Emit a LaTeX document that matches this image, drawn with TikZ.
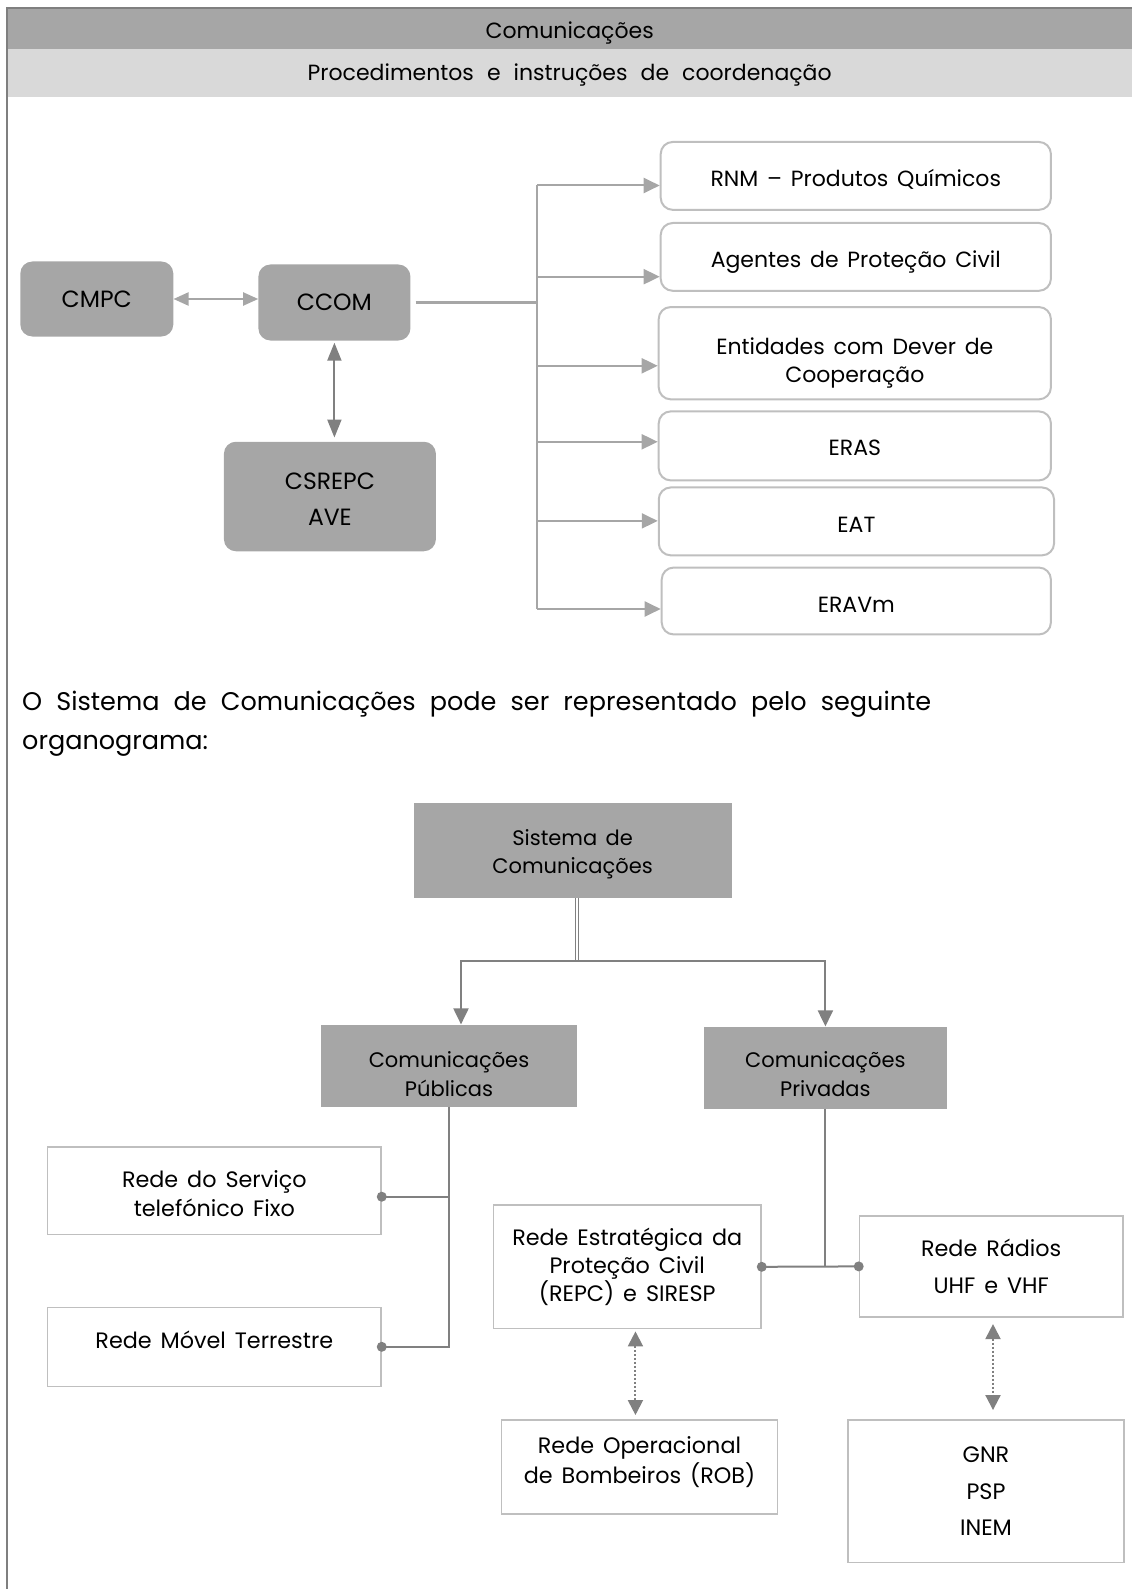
\documentclass[tikz,border=0pt]{standalone}
\usepackage{fontspec}
\setmainfont{Poppins}[WordSpace=1.5]
\usetikzlibrary{arrows.meta}
\definecolor{boxgray}{HTML}{A6A6A6}
\definecolor{bandlight}{HTML}{D9D9D9}
\definecolor{edgegray}{HTML}{BFBFBF}
\definecolor{linegray}{HTML}{808080}
\definecolor{framegray}{HTML}{7F7F7F}

\begin{document}
\begin{tikzpicture}[x=1pt,y=-1pt,
  every node/.style={inner sep=0pt, align=center, text=black},
  fs/.style 2 args={font=\fontsize{#1}{#2}\selectfont},
  % text set inside a box: downward shift, text style, text
  intext/.style n args={3}{label={[#2, align=center, text=black, yshift=-#1]center:{#3}}},
  band/.style={anchor=north west, minimum width=1125pt},
  bandtext/.style={fs={22}{26}},
  gbox/.style={fill=boxgray, rounded corners=12pt, fs={23.5}{36.4}},
  gtext/.style={fs={23.5}{36.4}},
  rbox/.style={draw=edgegray, line width=2pt, rounded corners=12pt, fill=white},
  rtext/.style={fs={22}{28.4}},
  sbox/.style={fill=boxgray},
  stext/.style={fs={21}{28.4}},
  wbox/.style={draw=edgegray, line width=1.5pt, fill=white, fs={22.3}{28.4}},
  wtext/.style={fs={22.3}{28.4}},
  tline/.style={draw=boxgray, line width=2pt},
  tarr/.style={tline, -{Triangle[length=16pt,width=15pt]}},
  tdarr/.style={tline, {Triangle[length=15pt,width=13pt]}-{Triangle[length=15pt,width=13pt]}},
  conn/.style={draw=linegray, line width=2pt},
  carr/.style={conn, -{Triangle[length=16pt,width=15pt]}},
  dotarr/.style={draw=linegray, line width=2pt, dotted,
    {Triangle[length=15pt,width=15pt,fill=linegray]}-{Triangle[length=15pt,width=15pt,fill=linegray]}},
  dot/.style={fill=linegray}
]
\useasboundingbox (0,0) rectangle (1132,1589);

% page frame and heading bands
\node[band, fill=boxgray, minimum height=40.6pt,
  intext={4pt}{bandtext}{Comunicações}] (hdr) at (7,8) {};
\node[band, fill=bandlight, minimum height=48.7pt,
  intext={2pt}{bandtext}{\makebox[524pt][s]{Procedimentos e instruções de coordenação}}] (sub) at (7,48.6) {};
\draw[framegray, line width=2pt] (7,1589) -- (7,8) -- (1132,8);

% coordination centres
\node[gbox, minimum width=153pt, minimum height=75pt] (cmpc) at (96.8,299) {CMPC};
\node[gbox, minimum width=152pt, minimum height=76pt] (ccom) at (334.4,302.5) {CCOM};
\node[gbox, minimum width=212pt, minimum height=109.5pt,
  intext={2.5pt}{gtext}{CSREPC\\AVE}] (csrepc) at (329.9,496.5) {};

\draw[tdarr] (cmpc.east) -- (cmpc.east -| ccom.west);
\draw[tline, draw=linegray, {Triangle[length=18pt,width=14pt]}-{Triangle[length=18pt,width=14pt]},
  shorten <=2pt, shorten >=4pt] (ccom.south) -- (ccom.south |- csrepc.north);

% entities informed by CCOM
\node[rbox, minimum width=390.2pt, minimum height=67.9pt,
  intext={3pt}{rtext}{RNM – Produtos Químicos}] (rnm) at (855.8,175.9) {};
\node[rbox, minimum width=390.2pt, minimum height=67.8pt,
  intext={5pt}{rtext}{Agentes de Proteção Civil}] (apc) at (855.8,256.9) {};
\node[rbox, minimum width=392.2pt, minimum height=92.3pt,
  intext={9.5pt}{rtext}{Entidades com Dever de\\Cooperação}] (edc) at (854.8,353.2) {};
\node[rbox, minimum width=392.2pt, minimum height=69pt,
  intext={2pt}{rtext}{ERAS}] (eras) at (854.8,445.9) {};
\node[rbox, minimum width=395.3pt, minimum height=67.9pt,
  intext={3pt}{rtext}{EAT}] (eat) at (856.4,521.4) {};
\node[rbox, minimum width=389.2pt, minimum height=66.9pt,
  intext={4pt}{rtext}{ERAVm}] (eravm) at (856.3,601) {};

\coordinate (b1) at (537,185.5);
\coordinate (b2) at (537,276.7);
\coordinate (b3) at (537,365.8);
\coordinate (b4) at (537,441.8);
\coordinate (b5) at (537,520.9);
\coordinate (b6) at (537,609);
\draw[tline, line width=3pt, shorten <=5pt] (ccom.east) -- (ccom.east -| b1);
\draw[tline] (b1) -- (b6);
\draw[tarr] (b1) -- (b1 -| rnm.west);
\draw[tarr] (b2) -- (b2 -| apc.west);
\draw[tarr] (b3) -- (b3 -| edc.west);
\draw[tarr] (b4) -- (b4 -| eras.west);
\draw[tarr] (b5) -- (b5 -| eat.west);
\draw[tarr] (b6) -- (b6 -| eravm.west);

% introductory sentence
\node[anchor=north west, align=left, fs={25.5}{39}] (para) at (22,690.5)
  {\makebox[909pt][s]{O Sistema de Comunicações pode ser representado pelo seguinte}\\organograma:};

% communications system chart
\node[sbox, minimum width=318.2pt, minimum height=95.3pt,
  intext={4pt}{stext}{Sistema de\\Comunicações}] (sis) at (572.6,850.3) {};
\node[sbox, minimum width=255.3pt, minimum height=82pt,
  intext={8.6pt}{stext}{Comunicações\\Públicas}] (pub) at (449,1065.6) {};
\node[sbox, minimum width=242.2pt, minimum height=82pt,
  intext={6.6pt}{stext}{Comunicações\\Privadas}] (priv) at (825.4,1067.6) {};

\coordinate (split) at (577,960.7);
\draw[conn, double=white, double distance=2pt, line width=1pt] ([xshift=4.4pt]sis.south) -- (split);
\draw[carr] (split) -| ([xshift=12pt]pub.north);
\draw[carr] (split) -| (priv.north);

\node[wbox, minimum width=333.4pt, minimum height=87.3pt,
  intext={3pt}{wtext}{Rede do Serviço\\telefónico Fixo}] (fixo) at (214.3,1190.7) {};
\node[wbox, minimum width=333.4pt, minimum height=79pt,
  intext={-7pt}{wtext}{Rede Móvel Terrestre}] (movel) at (214.3,1346.8) {};
\node[wbox, minimum width=267.5pt, minimum height=123.7pt] (repc) at (627.25,1266.8)
  {Rede Estratégica da\\Proteção Civil\\(REPC) e SIRESP};
\node[wbox, minimum width=263.5pt, minimum height=100.8pt, fs={22.3}{36.5}] (rad) at (991.2,1266.4)
  {Rede Rádios\\UHF e VHF};
\node[wbox, minimum width=275.7pt, minimum height=94.2pt,
  intext={-5pt}{fs={22.3}{29.4}}{Rede Operacional\\de Bombeiros (ROB)}] (rob) at (639.5,1466.9) {};
\node[wbox, minimum width=275.7pt, minimum height=142.8pt, fs={22.3}{36.5}] (gnr) at (986,1491.2)
  {GNR\\PSP\\INEM};

% public branch
\draw[conn] (pub.south) |- ([yshift=-6pt]fixo.east);
\draw[conn] (pub.south) |- (movel.east);
\fill[dot] ([yshift=-6pt]fixo.east) circle (5pt);
\fill[dot] (movel.east) circle (5pt);

% private branch
\draw[conn] (priv.south) -- (priv.south |- repc.east);
\draw[conn] (repc.east) -- (rad.west);
\fill[dot] (repc.east) circle (5pt);
\fill[dot] (rad.west) circle (5pt);

% radio interoperability links
\draw[dotarr, shorten <=2pt, shorten >=4pt] ([xshift=8.2pt]repc.south) -- ([xshift=8.2pt]repc.south |- rob.north);
\draw[dotarr, shorten <=6.5pt, shorten >=9pt] ([xshift=1.8pt]rad.south) -- ([xshift=1.8pt]rad.south |- gnr.north);
\end{tikzpicture}
\end{document}
